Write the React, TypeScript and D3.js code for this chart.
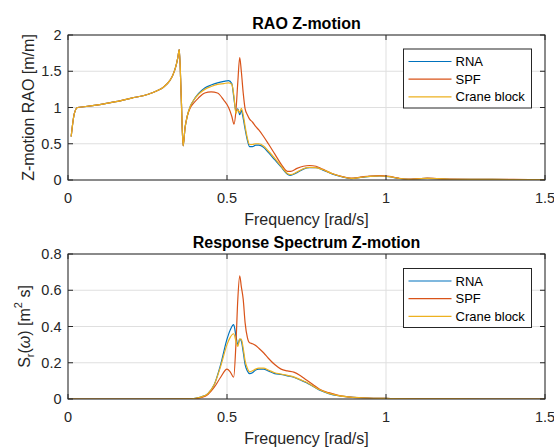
import React from "react";
import * as d3 from "d3";

if (typeof document !== "undefined") document.body.style.margin = "0";

// ---------- Data: RAO Z-motion ----------
const raoFreq = [0.01, 0.02, 0.03, 0.05, 0.10, 0.15, 0.20, 0.25, 0.28, 0.30, 0.32, 0.33, 0.34, 0.345, 0.35, 0.356, 0.362, 0.368, 0.375, 0.385, 0.395, 0.41, 0.43, 0.45, 0.47, 0.49, 0.505, 0.515, 0.522, 0.528, 0.534, 0.540, 0.545, 0.551, 0.557, 0.564, 0.571, 0.58, 0.59, 0.60, 0.615, 0.63, 0.65, 0.67, 0.69, 0.70, 0.72, 0.74, 0.76, 0.78, 0.80, 0.83, 0.86, 0.89, 0.92, 0.95, 0.98, 1.01, 1.04, 1.07, 1.10, 1.13, 1.16, 1.20, 1.30, 1.40, 1.50];
const raoRNA = [0.60, 0.92, 1.00, 1.01, 1.04, 1.08, 1.13, 1.18, 1.23, 1.28, 1.37, 1.45, 1.58, 1.68, 1.80, 1.15, 0.47, 0.72, 0.88, 1.02, 1.10, 1.19, 1.27, 1.31, 1.34, 1.36, 1.37, 1.33, 1.12, 0.95, 0.98, 0.90, 0.96, 0.85, 0.70, 0.55, 0.46, 0.46, 0.48, 0.48, 0.45, 0.38, 0.28, 0.18, 0.08, 0.065, 0.10, 0.15, 0.17, 0.17, 0.14, 0.085, 0.045, 0.02, 0.035, 0.05, 0.055, 0.045, 0.022, 0.01, 0.016, 0.022, 0.018, 0.01, 0.008, 0.006, 0.005];
const raoSPF = [0.60, 0.92, 1.00, 1.01, 1.04, 1.08, 1.13, 1.18, 1.23, 1.28, 1.37, 1.45, 1.58, 1.68, 1.80, 1.15, 0.47, 0.72, 0.88, 1.00, 1.06, 1.13, 1.20, 1.215, 1.20, 1.10, 1.00, 0.88, 0.77, 0.95, 1.35, 1.69, 1.50, 1.20, 0.98, 0.90, 0.84, 0.80, 0.74, 0.69, 0.60, 0.50, 0.36, 0.22, 0.12, 0.12, 0.16, 0.19, 0.20, 0.19, 0.15, 0.09, 0.05, 0.025, 0.04, 0.055, 0.06, 0.05, 0.025, 0.012, 0.018, 0.025, 0.02, 0.012, 0.01, 0.008, 0.006];
const raoCrane = [0.60, 0.92, 1.00, 1.01, 1.04, 1.08, 1.13, 1.18, 1.23, 1.28, 1.37, 1.45, 1.58, 1.68, 1.80, 1.15, 0.47, 0.72, 0.88, 1.02, 1.10, 1.18, 1.25, 1.29, 1.32, 1.33, 1.34, 1.32, 1.15, 0.92, 0.97, 0.93, 0.99, 0.90, 0.74, 0.58, 0.49, 0.49, 0.50, 0.50, 0.47, 0.40, 0.30, 0.19, 0.09, 0.075, 0.11, 0.155, 0.175, 0.17, 0.145, 0.09, 0.048, 0.022, 0.036, 0.05, 0.055, 0.046, 0.023, 0.01, 0.016, 0.022, 0.018, 0.01, 0.008, 0.006, 0.005];

// ---------- Data: Response spectrum ----------
const specFreq = [0.0, 0.30, 0.38, 0.40, 0.42, 0.44, 0.46, 0.48, 0.50, 0.51, 0.521, 0.528, 0.534, 0.540, 0.545, 0.551, 0.557, 0.564, 0.571, 0.58, 0.59, 0.60, 0.615, 0.63, 0.65, 0.67, 0.69, 0.71, 0.73, 0.75, 0.77, 0.79, 0.82, 0.85, 0.88, 0.92, 0.96, 1.0, 1.1, 1.2, 1.3, 1.4, 1.5];
const specRNA = [0, 0, 0.001, 0.004, 0.012, 0.03, 0.08, 0.19, 0.33, 0.38, 0.41, 0.35, 0.30, 0.33, 0.32, 0.26, 0.19, 0.155, 0.14, 0.145, 0.16, 0.165, 0.165, 0.155, 0.14, 0.135, 0.128, 0.12, 0.105, 0.09, 0.07, 0.05, 0.03, 0.018, 0.012, 0.007, 0.004, 0.003, 0.001, 0.0005, 0, 0, 0];
const specSPF = [0, 0, 0.0005, 0.002, 0.008, 0.025, 0.065, 0.12, 0.165, 0.15, 0.12, 0.30, 0.55, 0.68, 0.62, 0.55, 0.42, 0.34, 0.31, 0.305, 0.295, 0.28, 0.255, 0.225, 0.19, 0.165, 0.155, 0.148, 0.13, 0.105, 0.08, 0.055, 0.035, 0.02, 0.012, 0.007, 0.004, 0.003, 0.001, 0.0005, 0, 0, 0];
const specCrane = [0, 0, 0.001, 0.004, 0.012, 0.03, 0.08, 0.18, 0.30, 0.34, 0.36, 0.32, 0.29, 0.33, 0.33, 0.28, 0.21, 0.17, 0.15, 0.155, 0.165, 0.17, 0.17, 0.16, 0.145, 0.138, 0.13, 0.122, 0.107, 0.092, 0.072, 0.052, 0.031, 0.019, 0.012, 0.007, 0.004, 0.003, 0.001, 0.0005, 0, 0, 0];

const seriesNames = ["RNA", "SPF", "Crane block"];
const seriesColors = ["#0072BD", "#D95319", "#EDB120"];

const xTicks = [0, 0.5, 1, 1.5];
const raoYTicks = [0, 0.5, 1, 1.5, 2];
const specYTicks = [0, 0.2, 0.4, 0.6, 0.8];

const FONT = "'Liberation Sans', Arial, Helvetica, sans-serif";
const AX = "#262626";
const GRID = "#dfdfdf";

type PanelProps = {
  top: number;
  bottom: number;
  yMax: number;
  yTicks: number[];
  freq: number[];
  series: number[][];
  title: string;
  yLabel: React.ReactNode;
  yLabelX: number;
  legendTop: number;
};

function Panel(p: PanelProps) {
  const left = 68;
  const right = 545;
  const x = d3.scaleLinear().domain([0, 1.5]).range([left, right]);
  const y = d3.scaleLinear().domain([0, p.yMax]).range([p.bottom, p.top]);
  const line = d3
    .line<number>()
    .x((_, i) => x(p.freq[i]))
    .y((v) => y(v))
    .curve(d3.curveMonotoneX);
  const tl = 5;
  const midX = (left + right) / 2;
  const midY = (p.top + p.bottom) / 2;
  const clipId = `clip-${p.top}`;
  const lg = { x: 403.5, y: p.legendTop, w: 128, h: 59 };
  return (
    <g>
      <defs>
        <clipPath id={clipId}>
          <rect x={left} y={p.top} width={right - left} height={p.bottom - p.top} />
        </clipPath>
      </defs>
      <rect x={left} y={p.top} width={right - left} height={p.bottom - p.top} fill="#fff" />
      {xTicks.map((t) => (
        <line key={"gx" + t} x1={x(t)} x2={x(t)} y1={p.top} y2={p.bottom} stroke={GRID} strokeWidth={1} />
      ))}
      {p.yTicks.map((t) => (
        <line key={"gy" + t} x1={left} x2={right} y1={y(t)} y2={y(t)} stroke={GRID} strokeWidth={1} />
      ))}
      <g clipPath={`url(#${clipId})`}>
        {p.series.map((s, i) => (
          <path key={i} d={line(s) || ""} fill="none" stroke={seriesColors[i]} strokeWidth={1.2} strokeLinejoin="round" />
        ))}
      </g>
      <rect x={left} y={p.top} width={right - left} height={p.bottom - p.top} fill="none" stroke={AX} strokeWidth={1} />
      {xTicks.map((t) => (
        <g key={"tx" + t}>
          <line x1={x(t)} x2={x(t)} y1={p.bottom} y2={p.bottom - tl} stroke={AX} />
          <line x1={x(t)} x2={x(t)} y1={p.top} y2={p.top + tl} stroke={AX} />
          <text x={x(t)} y={p.bottom + 17.5} textAnchor="middle" dominantBaseline="central" fontSize={14.5} fill={AX} fontFamily={FONT}>
            {String(t)}
          </text>
        </g>
      ))}
      {p.yTicks.map((t) => (
        <g key={"ty" + t}>
          <line x1={left} x2={left + tl} y1={y(t)} y2={y(t)} stroke={AX} />
          <line x1={right} x2={right - tl} y1={y(t)} y2={y(t)} stroke={AX} />
          <text x={61.5} y={y(t)} textAnchor="end" dominantBaseline="central" fontSize={14.5} fill={AX} fontFamily={FONT}>
            {String(t)}
          </text>
        </g>
      ))}
      <text x={midX} y={p.bottom + 39.5} textAnchor="middle" dominantBaseline="central" fontSize={16} fill={AX} fontFamily={FONT}>
        Frequency [rad/s]
      </text>
      <text x={midX} y={p.top - 12} textAnchor="middle" dominantBaseline="central" fontSize={16} fontWeight="bold" fill="#000" fontFamily={FONT}>
        {p.title}
      </text>
      <text
        transform={`translate(${p.yLabelX},${midY}) rotate(-90)`}
        textAnchor="middle"
        dominantBaseline="central"
        fontSize={16}
        fill={AX}
        fontFamily={FONT}
      >
        {p.yLabel}
      </text>
      <g>
        <rect x={lg.x} y={lg.y} width={lg.w} height={lg.h} fill="#fff" stroke={AX} strokeWidth={1} />
        {seriesNames.map((n, i) => {
          const cy = lg.y + 12.5 + i * 17.7;
          return (
            <g key={n}>
              <line x1={lg.x + 5} x2={lg.x + 48} y1={cy} y2={cy} stroke={seriesColors[i]} strokeWidth={1.2} />
              <text x={lg.x + 52} y={cy} dominantBaseline="central" fontSize={13} fill="#000" fontFamily={FONT}>
                {n}
              </text>
            </g>
          );
        })}
      </g>
    </g>
  );
}

export default function App() {
  return (
    <svg width={554} height={448} style={{ display: "block", background: "#fff" }}>
      <rect width={554} height={448} fill="#fff" />
      <Panel
        top={35}
        bottom={180}
        yMax={2}
        yTicks={raoYTicks}
        freq={raoFreq}
        series={[raoRNA, raoSPF, raoCrane]}
        title="RAO Z-motion"
        yLabel="Z-motion RAO [m/m]"
        yLabelX={28}
        legendTop={49}
      />
      <Panel
        top={254}
        bottom={399}
        yMax={0.8}
        yTicks={specYTicks}
        freq={specFreq}
        series={[specRNA, specSPF, specCrane]}
        title="Response Spectrum Z-motion"
        yLabel={
          <>
            S<tspan baselineShift="sub" fontSize={11}>r</tspan>
            <tspan>(</tspan>
            <tspan fontStyle="italic">ω</tspan>
            <tspan>) [m</tspan>
            <tspan baselineShift="super" fontSize={11}>2</tspan>
            <tspan> s]</tspan>
          </>
        }
        yLabelX={24}
        legendTop={268.5}
      />
    </svg>
  );
}
